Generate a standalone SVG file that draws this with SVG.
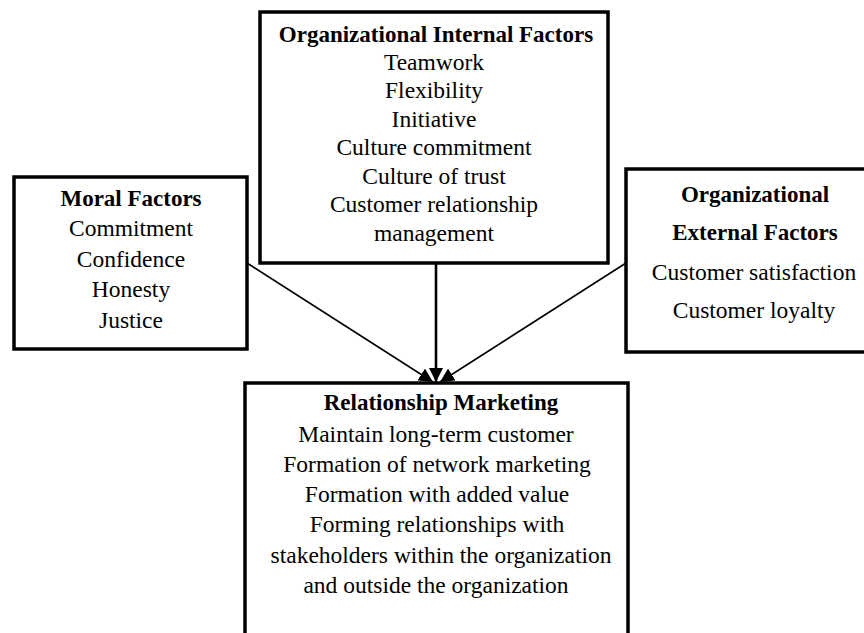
<svg xmlns="http://www.w3.org/2000/svg" width="864" height="633" viewBox="0 0 864 633">
<style>
.box{fill:#fff;stroke:#000;stroke-width:3.5}
text{font-family:"Liberation Serif","Times New Roman",serif;font-size:23.5px;fill:#000;text-anchor:middle}
.b{font-weight:bold;font-size:23px}
.ln{stroke:#000;fill:none}
</style>
<defs>
<marker id="ah2" viewBox="0 0 10 10" refX="10" refY="5" markerWidth="14" markerHeight="14" markerUnits="userSpaceOnUse" orient="auto"><path d="M0,0 L10,5 L0,10 z" fill="#000"/></marker>
</defs>
<rect x="0" y="0" width="864" height="633" fill="#fff"/>
<g id="connectors">
<line class="ln" x1="247" y1="263" x2="433" y2="382" stroke-width="1.6" marker-end="url(#ah2)"/>
<line class="ln" x1="626" y1="263" x2="440" y2="382" stroke-width="1.6" marker-end="url(#ah2)"/>
<line class="ln" x1="436" y1="263" x2="436" y2="382" stroke-width="2.6" marker-end="url(#ah2)"/>
</g>
<g id="internal">
<rect class="box" x="260" y="12" width="348" height="251" stroke-width="4"/>
<text class="b" x="436" y="42">Organizational Internal Factors</text>
<text x="434" y="70">Teamwork</text>
<text x="434" y="98">Flexibility</text>
<text x="434" y="127">Initiative</text>
<text x="434" y="155">Culture commitment</text>
<text x="434" y="184">Culture of trust</text>
<text x="434" y="212">Customer relationship</text>
<text x="434" y="241">management</text>
</g>
<g id="moral">
<rect class="box" x="14" y="177" width="233" height="172" stroke-width="3"/>
<text class="b" x="131" y="206">Moral Factors</text>
<text x="131" y="236">Commitment</text>
<text x="131" y="267">Confidence</text>
<text x="131" y="297">Honesty</text>
<text x="131" y="328">Justice</text>
</g>
<g id="external">
<rect class="box" x="626" y="169" width="260" height="183" stroke-width="3"/>
<text class="b" x="755" y="202">Organizational</text>
<text class="b" x="755" y="240">External Factors</text>
<text x="754" y="280">Customer satisfaction</text>
<text x="754" y="318">Customer loyalty</text>
</g>
<g id="relationship">
<rect class="box" x="245" y="383" width="383" height="270" stroke-width="3.5"/>
<text class="b" x="441" y="410">Relationship Marketing</text>
<text x="436" y="442">Maintain long-term customer</text>
<text x="437" y="472">Formation of network marketing</text>
<text x="437" y="502">Formation with added value</text>
<text x="437" y="532">Forming relationships with</text>
<text x="441" y="563">stakeholders within the organization</text>
<text x="436" y="593">and outside the organization</text>
</g>
</svg>
